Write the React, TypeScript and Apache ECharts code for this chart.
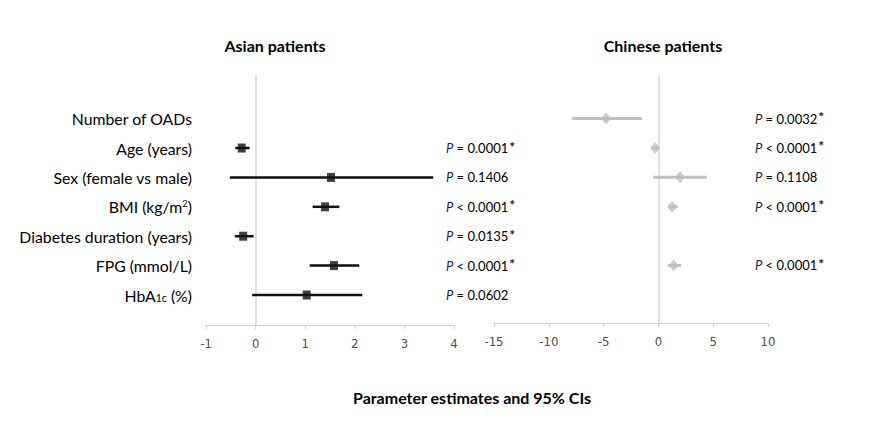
import React, { useEffect, useRef } from "react";
import * as echarts from "echarts";

// ---- data ----
const categories = [
  "Number of OADs",
  "Age (years)",
  "Sex (female vs male)",
  "BMI (kg/m{sup|2})",
  "Diabetes duration (years)",
  "FPG (mmol/L)",
  "HbA{sub|1c} (%)",
];

const asianEst = [null, -0.28, 1.52, 1.4, -0.25, 1.58, 1.03];
const asianLo = [null, -0.41, -0.52, 1.15, -0.42, 1.09, -0.07];
const asianHi = [null, -0.12, 3.58, 1.69, -0.04, 2.09, 2.15];
const asianP = ["", "P = 0.0001*", "P = 0.1406", "P < 0.0001*", "P = 0.0135*", "P < 0.0001*", "P = 0.0602"];

const chineseEst = [-4.77, -0.3, 1.98, 1.25, null, 1.4, null];
const chineseLo = [-7.9, -0.48, -0.46, 0.95, null, 0.86, null];
const chineseHi = [-1.52, -0.12, 4.4, 1.77, null, 2.07, null];
const chineseP = ["P = 0.0032*", "P < 0.0001*", "P = 0.1108", "P < 0.0001*", "", "P < 0.0001*", ""];

const asianTicks = { min: -1, max: 4, interval: 1 };
const chineseTicks = { min: -15, max: 10, interval: 5 };

const titleLeft = "Asian patients";
const titleRight = "Chinese patients";
const titleBottom = "Parameter estimates and 95% CIs";

// ---- helpers ----
const rows = categories.map((_, i) => i);
const pRich = (s: string) => (s ? s.replace(/^P/, "{i|P}").replace(/\*$/, "{s|*}") : "");

function ciData(est: (number | null)[], lo: (number | null)[], hi: (number | null)[]) {
  const out: number[][] = [];
  est.forEach((e, i) => {
    if (e !== null && lo[i] !== null && hi[i] !== null) out.push([lo[i] as number, hi[i] as number, i]);
  });
  return out;
}
function estData(est: (number | null)[]) {
  const out: number[][] = [];
  est.forEach((e, i) => {
    if (e !== null) out.push([e, i]);
  });
  return out;
}

const FONT = "Lato, 'Open Sans', sans-serif";
const TICKFONT = "'Liberation Sans Narrow', 'DejaVu Sans Condensed', sans-serif";

const pRichStyle = {
  i: { fontStyle: "italic", fontSize: 13, fontFamily: FONT, color: "#1b2340" },
  s: { fontSize: 14, fontWeight: "bold", fontFamily: FONT, color: "#222", padding: [0, 0, 4, 1] },
};

export default function App() {
  const ref = useRef<HTMLDivElement>(null);
  useEffect(() => {
    if (!ref.current) return;
    const chart = echarts.init(ref.current, undefined, { renderer: "svg" });

    const rowMin = -1.45;
    const leftMax = 7.02;
    const rightMax = 6.96;

    const xAxisCommon = (t: { min: number; max: number; interval: number }, gi: number) => ({
      type: "value",
      gridIndex: gi,
      min: t.min,
      max: t.max,
      interval: t.interval,
      splitLine: { show: false },
      axisLine: { show: true, onZero: false, lineStyle: { color: "#d0d0d0", width: 1 } },
      axisTick: { show: true, length: 4, lineStyle: { color: "#d0d0d0" } },
      axisLabel: { color: "#4d4d4d", fontSize: 13, fontFamily: TICKFONT, margin: 12 },
    });

    const hiddenY = (gi: number, max: number) => ({
      type: "value",
      gridIndex: gi,
      inverse: true,
      min: rowMin,
      max,
      splitLine: { show: false },
      axisLine: { show: false },
      axisTick: { show: false },
      axisLabel: { show: false },
    });

    const titleStyle = (text: string) => ({
      text,
      align: "center",
      verticalAlign: "middle",
      textAlign: "center",
      textVerticalAlign: "middle",
      font: `bold 16px ${FONT}`,
      fill: "#000",
    });

    const option = {
      animation: false,
      textStyle: { fontFamily: FONT },
      grid: [
        { left: 206, right: 436, top: 76, bottom: 97 },
        { left: 494, right: 122, top: 76, bottom: 99 },
      ],
      xAxis: [xAxisCommon(asianTicks, 0), xAxisCommon(chineseTicks, 1)],
      yAxis: [
        {
          ...hiddenY(0, leftMax),
          position: "left",
          axisLabel: {
            show: true,
            customValues: rows,
            margin: 14,
            color: "#000",
            fontSize: 15.8,
            fontFamily: FONT,
            formatter: (v: number) => categories[Math.round(v)] ?? "",
            rich: {
              sup: { fontSize: 9.5, fontFamily: FONT, color: "#000", padding: [0, 0, 7, 0] },
              sub: { fontSize: 10.5, fontFamily: FONT, color: "#000", padding: [5, 0, 0, 0] },
            },
          },
        },
        {
          ...hiddenY(0, leftMax),
          position: "right",
          axisLabel: {
            show: true,
            customValues: rows,
            margin: -8,
            align: "left",
            color: "#000",
            fontSize: 13,
            fontFamily: FONT,
            formatter: (v: number) => pRich(asianP[Math.round(v)] ?? ""),
            rich: pRichStyle,
          },
        },
        hiddenY(1, rightMax),
        {
          ...hiddenY(1, rightMax),
          position: "right",
          axisLabel: {
            show: true,
            customValues: rows,
            margin: -13,
            align: "left",
            color: "#000",
            fontSize: 13,
            fontFamily: FONT,
            formatter: (v: number) => pRich(chineseP[Math.round(v)] ?? ""),
            rich: pRichStyle,
          },
        },
      ],
      series: [
        {
          type: "custom",
          xAxisIndex: 0,
          yAxisIndex: 0,
          encode: { x: [0, 1], y: 2 },
          data: ciData(asianEst, asianLo, asianHi),
          z: 3,
          renderItem: (params: any, api: any) => {
            const a = api.coord([api.value(0), api.value(2)]);
            const b = api.coord([api.value(1), api.value(2)]);
            return {
              type: "line",
              shape: { x1: a[0], y1: a[1], x2: b[0], y2: b[1] },
              style: { stroke: "#111", lineWidth: 2.5 },
            };
          },
        },
        {
          type: "scatter",
          xAxisIndex: 0,
          yAxisIndex: 0,
          symbol: "rect",
          symbolSize: [8, 9],
          itemStyle: { color: "#111" },
          data: estData(asianEst),
          z: 4,
          markLine: {
            silent: true,
            symbol: "none",
            label: { show: false },
            lineStyle: { color: "#d6d6d6", width: 1.5, type: "solid" },
            data: [{ xAxis: 0 }],
            z: 1,
          },
        },
        {
          type: "custom",
          xAxisIndex: 1,
          yAxisIndex: 2,
          encode: { x: [0, 1], y: 2 },
          data: ciData(chineseEst, chineseLo, chineseHi),
          z: 3,
          renderItem: (params: any, api: any) => {
            const a = api.coord([api.value(0), api.value(2)]);
            const b = api.coord([api.value(1), api.value(2)]);
            return {
              type: "line",
              shape: { x1: a[0], y1: a[1], x2: b[0], y2: b[1] },
              style: { stroke: "#bfbfbf", lineWidth: 3 },
            };
          },
        },
        {
          type: "scatter",
          xAxisIndex: 1,
          yAxisIndex: 2,
          symbol: "diamond",
          symbolSize: [10, 12],
          itemStyle: { color: "#bfbfbf" },
          data: estData(chineseEst),
          z: 4,
          markLine: {
            silent: true,
            symbol: "none",
            label: { show: false },
            lineStyle: { color: "#d6d6d6", width: 1.5, type: "solid" },
            data: [{ xAxis: 0 }],
            z: 1,
          },
        },
      ],
      graphic: [
        { type: "text", x: 275, y: 45, style: titleStyle(titleLeft) },
        { type: "text", x: 663, y: 45, style: titleStyle(titleRight) },
        { type: "text", x: 472, y: 397, style: titleStyle(titleBottom) },
      ],
    };

    chart.setOption(option as any);
    return () => chart.dispose();
  }, []);

  return <div ref={ref} style={{ position: "absolute", left: 0, top: 0, width: 890, height: 422, background: "#fff" }} />;
}
